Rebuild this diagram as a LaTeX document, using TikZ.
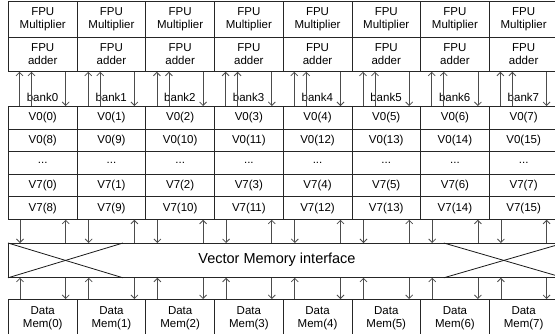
\documentclass[tikz,border=0pt]{standalone}
\usepackage{fontspec}
\setmainfont{Liberation Sans}
\usetikzlibrary{arrows.meta,calc}
\begin{document}
\begin{tikzpicture}[x=1pt,y=-1pt,
  box/.style={draw=black!85,line width=0.8pt,rectangle,inner sep=0pt,anchor=north west,
    minimum width=68.7pt,align=center,font=\fontsize{11.5}{13}\selectfont},
  conn/.style={draw=black!70,line width=0.8pt},
  tip/.style={-{Straight Barb[length=3.5pt,width=7pt]}},
  lbl/.style={inner sep=0pt,font=\fontsize{11.5}{13}\selectfont},
  bigl/.style={inner sep=0pt,font=\fontsize{14.5}{17}\selectfont}]
\useasboundingbox (0,0) rectangle (555,333);
\foreach \i in {0,...,7}{
  \pgfmathsetmacro\xl{8+\i*68.7}
  \pgfmathtruncatemacro\j{\i+8}
  \node[box,minimum height=36.5pt] (mul\i) at (\xl,0.5) {FPU\\Multiplier};
  \node[box,minimum height=34pt] (add\i) at (\xl,37) {FPU\\adder};
  \node[box,minimum height=22.6pt] (ra\i) at (\xl,106) {V0(\i)};
  \node[box,minimum height=22.6pt] (rb\i) at (\xl,128.6) {V0(\j)};
  \node[box,minimum height=22.6pt] (rc\i) at (\xl,151.2) {...};
  \node[box,minimum height=22.6pt] (rd\i) at (\xl,173.8) {V7(\i)};
  \node[box,minimum height=22.6pt] (re\i) at (\xl,196.4) {V7(\j)};
  \node[box,minimum height=38pt] (dm\i) at (\xl,299) {Data\\Mem(\i)};
  \node[lbl] (bank\i) at (\xl+34.5,97) {bank\i};
}
\node[draw=black!85,line width=0.8pt,rectangle,inner sep=0pt,anchor=north west,
  minimum width=555pt,minimum height=34pt] (vmi) at (8,243) {};
\node[bigl] (vmil) at (277,260) {Vector Memory interface};
\draw[draw=black!90,line width=0.8pt] (vmi.north west) -- ([xshift=115pt]vmi.south west);
\draw[draw=black!90,line width=0.8pt] (vmi.south west) -- ([xshift=115pt]vmi.north west);
\draw[draw=black!90,line width=0.8pt] ([xshift=-120pt]vmi.north east) -- (vmi.south east);
\draw[draw=black!90,line width=0.8pt] ([xshift=-120pt]vmi.south east) -- (vmi.north east);
\foreach \i in {0,...,7}{
  \draw[conn,tip] ([xshift=11.5pt]ra\i.north west) -- ([xshift=11.5pt]add\i.south west);
  \draw[conn,tip] ([xshift=23.5pt]ra\i.north west) -- ([xshift=23.5pt]add\i.south west);
  \draw[conn,tip] ([xshift=57.7pt]add\i.south west) -- ([xshift=57.7pt]ra\i.north west);
  \coordinate (pa\i) at ([xshift=12pt]re\i.south west);
  \coordinate (pb\i) at ([xshift=57.7pt]re\i.south west);
  \coordinate (qa\i) at ([xshift=12pt]dm\i.north west);
  \coordinate (qb\i) at ([xshift=57.7pt]dm\i.north west);
  \draw[conn,tip] (pa\i) -- (pa\i |- vmi.north);
  \draw[conn,tip] (pb\i |- vmi.north) -- (pb\i);
  \draw[conn,tip] (qa\i) -- (qa\i |- vmi.south);
  \draw[conn,tip] (qb\i |- vmi.south) -- (qb\i);
}
\end{tikzpicture}
\end{document}
